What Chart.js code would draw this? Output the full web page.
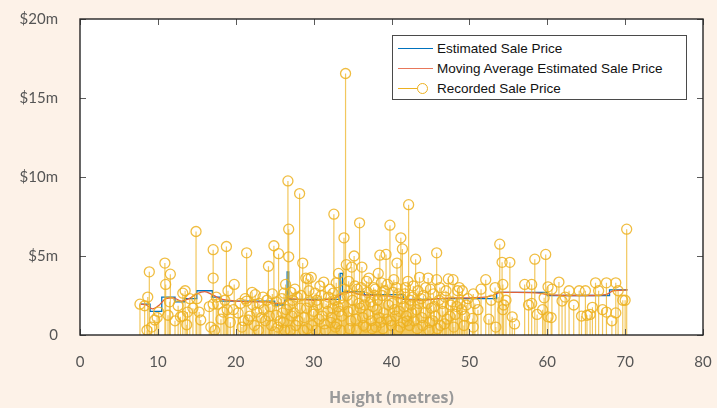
<!DOCTYPE html>
<html>
<head>
<meta charset="utf-8">
<script src="https://cdn.jsdelivr.net/npm/chart.js@4"></script>
<style>
  html, body { margin: 0; padding: 0; background: #fdf2e8; }
  #wrap { position: relative; width: 717px; height: 408px; }
  canvas { display: block; }
  #legend {
    position: absolute; left: 392px; top: 35px; width: 295px; height: 65px;
    box-sizing: border-box; border: 1px solid #4a4a4a; background: #fff;
    font-family: "Liberation Sans", Arial, sans-serif; font-size: 13.5px; color: #111;
  }
  .row { position: absolute; left: 0; width: 100%; height: 20px; line-height: 20px; }
  .sample { position: absolute; left: 5px; top: 9px; width: 35px; height: 0; border-top: 1.3px solid; }
  .dot { position: absolute; left: 24px; top: 4px; width: 9px; height: 9px; border: 1.3px solid #EDB120; border-radius: 50%; background: #fff; }
  .label { position: absolute; left: 44px; top: 0; white-space: nowrap; }
</style>
</head>
<body>
<div id="wrap">
  <canvas id="c" width="717" height="408"></canvas>
  <div id="legend">
    <div class="row" style="top:3px"><span class="sample" style="border-color:#0072BD"></span><span class="label">Estimated Sale Price</span></div>
    <div class="row" style="top:23px"><span class="sample" style="border-color:#E8775A"></span><span class="label">Moving Average Estimated Sale Price</span></div>
    <div class="row" style="top:43px"><span class="sample" style="border-color:#EDB120;width:20px"></span><span class="dot"></span><span class="label">Recorded Sale Price</span></div>
  </div>
</div>
<script>
// Recorded sales: building height (m) and price ($m)
const heights = [
  7.7, 8.3, 8.6, 8.7, 8.9, 9.2, 9.6, 9.9, 10.9, 11.0, 11.3, 11.6, 12.6, 12.9, 13.2, 13.2, 13.5, 13.7, 13.8, 14.1,
  14.9, 15.0, 15.3, 15.5, 17.1, 17.1, 17.1, 17.3, 17.5, 17.7, 18.1, 18.4, 18.8, 18.9, 19.3, 19.7, 19.8,
  20.8, 21.0, 21.2, 21.4, 21.4, 21.6, 22.1, 22.2, 22.5, 22.7, 22.9, 23.3, 23.5, 23.6, 24.2, 24.3, 24.6, 24.9,
  25.2, 25.2, 25.4, 25.5, 25.7, 26.0, 26.2, 26.3, 26.4, 26.7, 26.8, 26.8, 26.9, 27.1, 27.3, 27.5, 27.7, 27.9,
  28.2, 28.3, 28.6, 28.8, 29.0, 29.2, 29.3, 29.5, 29.7, 29.9, 30.2, 30.3, 30.5, 30.7, 31.0, 31.3, 31.4, 31.6,
  31.8, 32.1, 32.3, 32.5, 32.6, 32.8, 32.9, 33.1, 33.2, 33.4, 33.6, 33.9, 34.0, 34.1, 34.2, 34.4, 34.6, 34.9,
  35.0, 35.2, 35.4, 35.6, 35.9, 36.0, 36.2, 36.4, 36.6, 36.8, 37.0, 37.3, 37.5, 37.7, 37.9, 38.1, 38.3, 38.5,
  38.6, 38.8, 39.0, 39.3, 39.5, 39.8, 39.9, 40.1, 40.3, 40.5, 40.7, 40.9, 41.1, 41.2, 41.4, 41.6, 41.8, 42.0,
  42.2, 42.4, 42.6, 42.8, 43.1, 43.3, 43.5, 43.6, 43.9, 44.1, 44.4, 44.7, 44.9, 45.1, 45.4, 45.6, 45.8, 45.8,
  46.1, 46.3, 46.6, 46.9, 47.1, 47.3, 47.6, 47.9, 48.2, 48.5, 48.8, 49.1, 49.4, 49.8, 50.5, 50.4, 50.5, 50.7,
  51.1, 51.5, 52.1, 52.5, 52.8, 53.3, 53.4, 53.7, 53.9, 54.2, 54.3, 54.3, 54.4, 54.7, 55.2, 55.5, 55.8, 57.1,
  57.6, 58.0, 58.0, 58.4, 58.7, 59.4, 59.6, 59.8, 60.1, 60.1, 60.5, 60.6, 61.5, 61.9, 62.3, 62.8, 63.4, 64.1,
  64.4, 64.9, 65.1, 65.5, 65.8, 66.2, 66.6, 67.1, 67.6, 67.6, 68.3, 68.8, 68.8, 69.1, 69.7, 70.0, 70.2,
  10.1, 11.5, 12.2, 14.5, 16.6, 16.8, 18.6, 19.0, 20.3, 20.6, 21.8, 22.4, 23.0, 23.8, 24.0, 24.4, 24.7,
  25.0, 25.9, 26.1, 26.5, 27.0, 27.2, 27.6, 28.0, 28.4, 28.7, 29.1, 29.4, 29.8, 30.0, 30.4, 30.8, 31.1, 31.5,
  31.9, 32.2, 32.4, 32.7, 33.0, 33.3, 33.5, 33.8, 34.3, 34.5, 34.8, 35.1, 35.3, 35.5, 35.8, 36.1, 36.3, 36.5,
  36.7, 36.9, 37.1, 37.4, 37.6, 37.8, 38.0, 38.2, 38.4, 38.7, 38.9, 39.1, 39.4, 39.6, 40.0, 40.2, 40.4, 40.6,
  40.8, 41.0, 41.3, 41.5, 41.7, 41.9, 42.1, 42.3, 42.5, 42.7, 42.9, 43.2, 43.4, 43.8, 44.0, 44.3, 44.6, 44.8,
  45.0, 45.3, 45.5, 45.9, 46.2, 46.5, 46.8, 47.0, 47.5, 47.8, 48.0, 48.4, 48.7, 49.0, 49.3, 49.6
];
const prices = [
  1.95, 1.85, 0.3, 2.4, 4.0, 0.5, 0.95, 1.1, 4.55, 3.2, 1.25, 3.85, 1.85, 1.15, 2.65, 1.2, 2.8, 0.65, 1.45, 2.3,
  6.55, 2.3, 1.45, 0.95, 5.4, 3.6, 1.95, 0.3, 2.4, 1.95, 1.0, 1.45, 5.6, 1.6, 0.8, 1.6, 3.2,
  0.5, 0.9, 2.3, 5.2, 2.15, 0.95, 2.7, 1.9, 2.55, 1.45, 0.3, 1.1, 2.4, 1.6, 4.35, 1.2, 0.6, 5.65,
  2.1, 1.25, 0.5, 5.15, 0.9, 1.4, 2.65, 0.3, 3.2, 9.75, 6.7, 4.95, 1.9, 2.7, 2.2, 1.4, 0.6, 2.4,
  8.95, 1.7, 4.55, 1.1, 3.6, 0.4, 3.55, 2.1, 3.65, 1.3, 2.65, 0.3, 1.9, 1.0, 2.5, 3.35, 0.7, 2.0,
  1.5, 2.9, 1.1, 2.65, 7.65, 0.5, 3.3, 1.8, 3.9, 2.3, 1.2, 6.15, 2.9, 16.55, 4.45, 1.5, 0.4, 4.3,
  2.2, 5.0, 1.0, 2.9, 7.1, 1.7, 4.3, 0.6, 2.4, 3.4, 1.3, 2.1, 0.4, 3.0, 2.9, 1.6, 3.9, 5.05,
  0.8, 2.5, 1.4, 5.1, 3.2, 6.95, 0.9, 2.0, 3.5, 1.2, 4.55, 2.6, 0.5, 6.15, 5.45, 1.8, 3.0, 0.9,
  8.25, 2.2, 1.4, 3.1, 4.8, 0.4, 2.0, 3.65, 1.1, 2.5, 3.0, 3.6, 0.8, 1.7, 2.6, 1.2, 5.2, 3.5,
  2.2, 0.6, 1.5, 2.4, 1.0, 3.55, 1.9, 3.5, 1.3, 2.8, 2.0, 2.8, 1.2, 2.3, 2.6, 1.05, 0.5, 2.0,
  1.6, 2.9, 3.5, 1.0, 2.2, 3.0, 0.5, 2.4, 5.75, 4.6, 3.2, 1.6, 1.9, 2.2, 4.6, 1.15, 0.7, 3.2,
  1.9, 3.2, 2.0, 4.8, 1.3, 1.6, 2.35, 5.1, 3.05, 1.15, 1.1, 2.9, 3.35, 2.15, 2.4, 2.8, 1.9, 2.8,
  1.2, 2.8, 1.25, 1.3, 1.75, 3.3, 2.8, 1.6, 3.3, 1.45, 0.9, 3.3, 1.4, 2.8, 2.2, 2.2, 6.7,
  1.45, 2.1, 0.9, 1.7, 1.8, 0.5, 2.2, 2.8, 1.4, 2.0, 1.2, 0.6, 2.0, 0.9, 2.2, 1.8, 2.6,
  0.2, 2.3, 0.8, 1.6, 0.3, 1.2, 2.9, 0.9, 2.5, 0.3, 1.7, 2.8, 0.6, 1.5, 2.2, 3.1, 1.2, 0.3,
  2.4, 0.8, 1.7, 2.2, 0.7, 1.5, 0.3, 1.9, 2.5, 3.4, 0.9, 1.6, 3.1, 0.3, 2.0, 3.0, 1.1, 1.9,
  0.5, 2.7, 3.6, 0.9, 1.8, 2.5, 0.5, 2.2, 1.1, 3.3, 0.4, 2.8, 1.0, 1.9, 0.6, 2.7, 1.6, 3.0,
  0.3, 1.5, 2.3, 0.8, 2.6, 1.2, 3.4, 0.6, 1.9, 2.4, 0.9, 1.6, 2.8, 2.3, 0.6, 1.4, 2.0, 0.3,
  2.9, 0.9, 1.8, 0.4, 3.0, 2.0, 0.7, 2.8, 1.2, 2.1, 0.5, 1.8, 3.0, 1.6, 0.6, 1.9
];

// Model estimate (step function of height)
const estHeights = [7.8, 9.0, 9.0, 10.5, 10.5, 12.2, 12.2, 13.4, 13.4, 15.0, 15.0, 17.0, 17.0, 18.0, 18.0,
  25.0, 25.0, 26.3, 26.3, 26.6, 26.6, 26.8, 26.8, 33.4, 33.4, 33.7, 33.7, 36.5, 36.5, 41.5, 41.5, 45.5, 45.5,
  53.5, 53.5, 60.0, 60.0, 68.0, 68.0, 70.3];
const estPrices = [1.95, 1.95, 1.5, 1.5, 2.4, 2.4, 2.1, 2.1, 2.3, 2.3, 2.8, 2.8, 2.4, 2.4, 2.15,
  2.15, 1.9, 1.9, 2.2, 2.2, 4.0, 4.0, 2.25, 2.25, 3.9, 3.9, 2.75, 2.75, 2.55, 2.55, 2.25, 2.25, 2.3,
  2.3, 2.7, 2.7, 2.5, 2.5, 2.85, 2.85];

// Moving average of the estimate
const maHeights = [7.8, 8.5, 9.3, 10.2, 11.0, 12.0, 13.0, 14.0, 15.0, 16.0, 17.0, 18.0, 20.0, 22.0, 24.0, 25.0,
  26.0, 27.0, 28.0, 30.0, 32.0, 33.0, 34.0, 35.0, 36.0, 38.0, 40.0, 42.0, 44.0, 46.0, 48.0, 50.0, 52.0, 53.0,
  54.0, 56.0, 59.0, 60.0, 62.0, 66.0, 67.5, 68.5, 70.3];
const maPrices = [1.95, 1.9, 1.65, 1.9, 2.3, 2.35, 2.15, 2.3, 2.6, 2.75, 2.55, 2.3, 2.15, 2.1, 2.1, 2.0,
  2.0, 2.3, 2.25, 2.2, 2.25, 2.4, 2.7, 2.7, 2.55, 2.5, 2.45, 2.25, 2.2, 2.3, 2.35, 2.35, 2.4, 2.5,
  2.7, 2.7, 2.65, 2.55, 2.5, 2.5, 2.55, 2.8, 2.85];

const xTicks = [0, 10, 20, 30, 40, 50, 60, 70, 80];
const yTicks = [0, 5, 10, 15, 20];

const YELLOW_LINE = 'rgba(237,177,32,0.72)';
const YELLOW_MARK = 'rgba(237,177,32,0.85)';

// stems: vertical segments from zero up to each recorded price, separated by gaps
const stemData = [];
heights.forEach((h, i) => {
  stemData.push({ x: h, y: 0 }, { x: h, y: prices[i] }, { x: h, y: null });
});
const markData = heights.map((h, i) => ({ x: h, y: prices[i] }));
const estData = estHeights.map((h, i) => ({ x: h, y: estPrices[i] }));
const maData = maHeights.map((h, i) => ({ x: h, y: maPrices[i] }));

// white plot area, dark frame and inward tick marks on all four sides
const framePlugin = {
  id: 'frame',
  beforeDatasetsDraw(chart) {
    const { ctx, chartArea: a } = chart;
    ctx.save();
    ctx.fillStyle = '#ffffff';
    ctx.fillRect(a.left, a.top, a.right - a.left, a.bottom - a.top);
    ctx.restore();
  },
  afterDatasetsDraw(chart) {
    const { ctx, chartArea: a, scales } = chart;
    ctx.save();
    ctx.strokeStyle = '#5a5a5a';
    ctx.lineWidth = 1;
    ctx.beginPath();
    xTicks.forEach(t => {
      const px = Math.round(scales.x.getPixelForValue(t)) + 0.5;
      ctx.moveTo(px, a.bottom); ctx.lineTo(px, a.bottom - 6);
      ctx.moveTo(px, a.top); ctx.lineTo(px, a.top + 6);
    });
    yTicks.forEach(t => {
      const py = Math.round(scales.y.getPixelForValue(t)) + 0.5;
      ctx.moveTo(a.left, py); ctx.lineTo(a.left + 6, py);
      ctx.moveTo(a.right, py); ctx.lineTo(a.right - 6, py);
    });
    ctx.stroke();
    ctx.strokeStyle = '#262626';
    ctx.lineWidth = 1.4;
    ctx.strokeRect(a.left, a.top, a.right - a.left, a.bottom - a.top);
    ctx.restore();
  }
};

new Chart(document.getElementById('c'), {
  type: 'line',
  data: {
    datasets: [
      { label: 'Estimated Sale Price', data: estData, borderColor: '#0072BD', borderWidth: 1.3,
        pointRadius: 0, tension: 0, order: 3 },
      { label: 'Moving Average Estimated Sale Price', data: maData, borderColor: '#E0603A', borderWidth: 1.3,
        pointRadius: 0, cubicInterpolationMode: 'monotone', order: 2 },
      { label: 'Recorded Sale Price', data: stemData, borderColor: YELLOW_LINE, borderWidth: 1.2,
        pointRadius: 0, spanGaps: false, order: 1 },
      { label: 'Recorded Sale Price markers', data: markData, showLine: false, pointStyle: 'circle',
        pointRadius: 5, pointBorderWidth: 1.3, pointBorderColor: YELLOW_MARK,
        pointBackgroundColor: 'rgba(0,0,0,0)', order: 0 }
    ]
  },
  options: {
    responsive: false,
    animation: false,
    events: [],
    layout: { padding: { top: 19, right: 14, left: 0, bottom: 0 } },
    plugins: { legend: { display: false }, tooltip: { enabled: false } },
    scales: {
      x: {
        type: 'linear', min: 0, max: 80,
        afterBuildTicks(s) { s.ticks = xTicks.map(v => ({ value: v })); },
        ticks: { padding: 18, color: '#555', font: { family: 'Lato', size: 15 } },
        grid: { display: false, drawTicks: false },
        border: { display: false },
        title: { display: true, text: 'Height (metres)', color: '#9a9a9a',
          font: { family: 'Open Sans', size: 16, weight: 'bold' }, padding: { top: 0, bottom: 0 } },
        afterFit(s) { s.height = 73; s.paddingLeft = 0; s.paddingRight = 0; }
      },
      y: {
        type: 'linear', min: 0, max: 20,
        afterBuildTicks(s) { s.ticks = yTicks.map(v => ({ value: v })); },
        ticks: { padding: 22, color: '#555', font: { family: 'Lato', size: 15 },
          callback: v => v === 0 ? '0' : '$' + v + 'm' },
        grid: { display: false, drawTicks: false },
        border: { display: false },
        afterFit(s) { s.width = 80; s.paddingTop = 0; s.paddingBottom = 0; }
      }
    }
  },
  plugins: [framePlugin]
});
</script>
</body>
</html>
